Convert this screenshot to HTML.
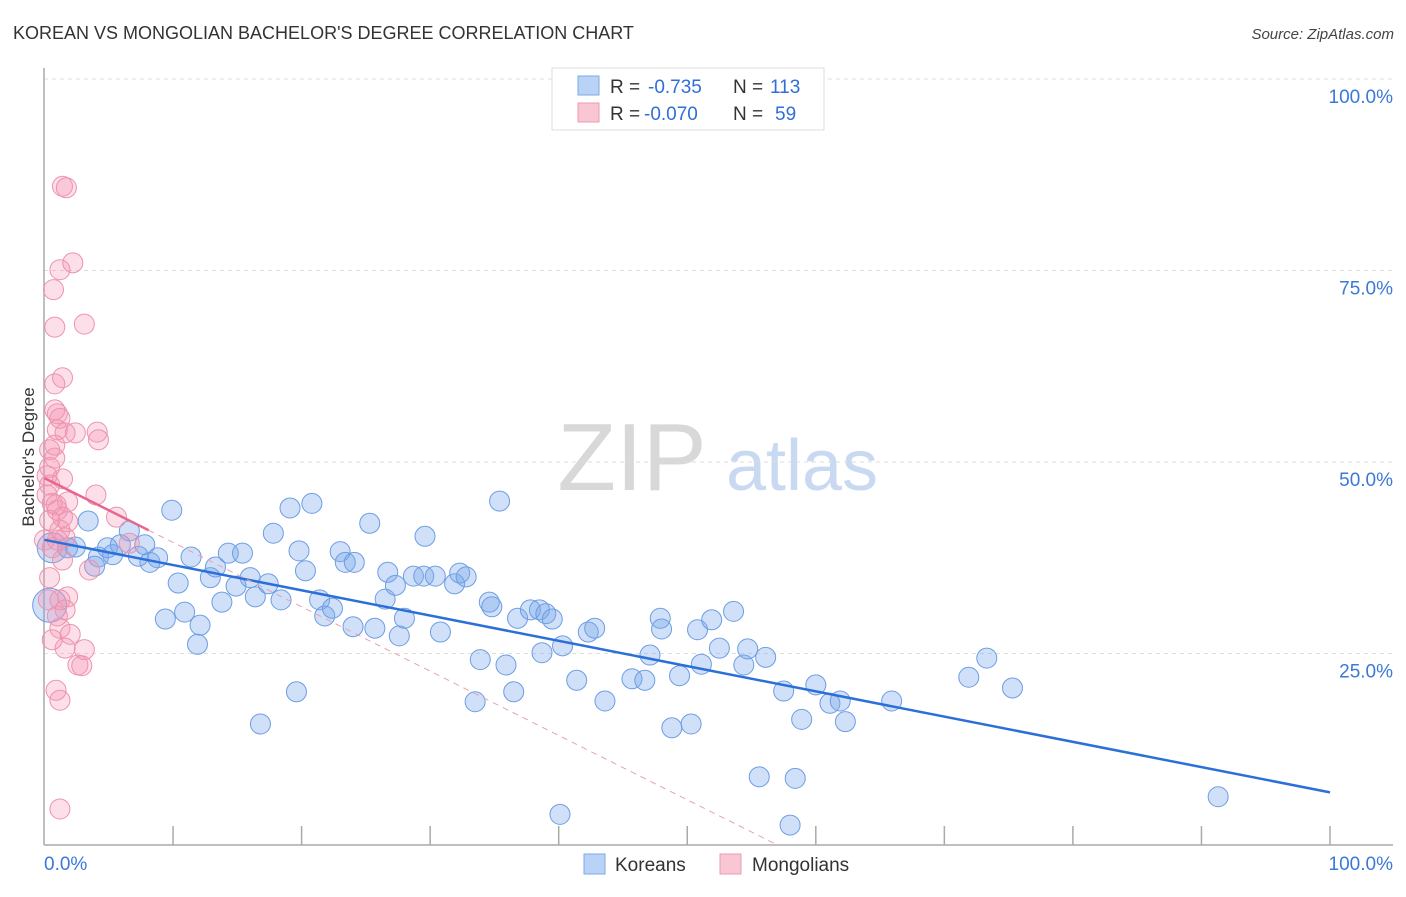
<!DOCTYPE html>
<html><head><meta charset="utf-8"><style>
body{margin:0;background:#fff;font-family:"Liberation Sans",sans-serif;}
svg text{font-family:"Liberation Sans",sans-serif;}
</style></head><body>
<svg id="chart" width="1406" height="892" viewBox="0 0 1406 892" xmlns="http://www.w3.org/2000/svg">
<text x="13" y="39" font-size="18" fill="#333">KOREAN VS MONGOLIAN BACHELOR'S DEGREE CORRELATION CHART</text>
<text x="1394" y="39" font-size="15" fill="#444" text-anchor="end" font-style="italic">Source: ZipAtlas.com</text>
<g>
<text x="632" y="490" font-size="96" fill="#d8d8d8" text-anchor="middle" font-family="Liberation Serif,serif">ZIP</text>
<text x="802" y="490" font-size="72" fill="#c9d9f2" text-anchor="middle">atlas</text>
</g>
<g id="grid"></g>
<g id="axes"></g>
<g id="pts"></g>
<g id="lines"></g>
<text transform="translate(34,457) rotate(-90)" font-size="17" fill="#333" text-anchor="middle">Bachelor's Degree</text>
<g>
<rect x="552" y="68" width="272" height="62" fill="#fff" stroke="#ddd"/>
<rect x="578" y="76" width="21" height="19" fill="#b9d3f7" stroke="#7ea8e6"/>
<rect x="578" y="103" width="21" height="19" fill="#f9c6d4" stroke="#ec9ab2"/>
<text x="610" y="93" font-size="19" fill="#333">R = </text><text x="648" y="93" font-size="19" fill="#2f6fd6">-0.735</text>
<text x="733" y="93" font-size="19" fill="#333">N = </text><text x="770" y="93" font-size="19" fill="#2f6fd6">113</text>
<text x="610" y="120" font-size="19" fill="#333">R = </text><text x="644" y="120" font-size="19" fill="#2f6fd6">-0.070</text>
<text x="733" y="120" font-size="19" fill="#333">N = </text><text x="775" y="120" font-size="19" fill="#2f6fd6">59</text>
</g>
<g>
<rect x="584" y="854" width="21" height="20" fill="#b9d3f7" stroke="#7ea8e6"/>
<text x="615" y="871" font-size="19" fill="#333">Koreans</text>
<rect x="720" y="854" width="21" height="20" fill="#f9c6d4" stroke="#ec9ab2"/>
<text x="752" y="871" font-size="19" fill="#333">Mongolians</text>
</g>
</svg>
<script>
const yTicks=[25,50,75,100];
const yTickLabels=["25.0%","50.0%","75.0%","100.0%"];
const xTicks=[10,20,30,40,50,60,70,80,90,100];
const koreanX=[0.6,0.4,3.4,1.8,2.4,4.2,4.9,5.3,5.9,3.9,6.6,7.3,7.8,8.2,8.8,9.9,10.4,10.9,9.4,11.4,11.9,12.1,12.9,13.3,13.8,14.3,14.9,15.4,16.0,16.4,16.8,17.4,17.8,18.4,19.1,19.6,19.8,20.3,20.8,21.4,21.8,22.4,23.0,23.4,24.0,24.1,25.3,25.7,26.5,26.7,27.3,27.6,28.0,28.7,29.6,29.5,30.4,30.8,31.9,32.3,32.8,33.9,33.5,34.6,34.8,35.4,35.9,36.5,36.8,37.8,38.5,39.0,38.7,39.5,40.1,40.3,41.4,42.3,42.8,43.6,45.7,46.7,47.1,47.9,48.0,48.8,49.4,50.3,50.8,51.1,51.9,52.5,53.6,54.4,54.7,55.6,56.1,57.5,58.0,58.4,58.9,60.0,61.1,61.9,62.3,65.9,71.9,73.3,75.3,91.3];
const koreanY=[38.8,31.3,42.3,38.8,38.9,37.6,38.8,37.9,39.2,36.4,41.0,37.7,39.2,36.9,37.5,43.7,34.2,30.4,29.5,37.6,26.2,28.7,34.9,36.3,31.7,38.1,33.8,38.1,34.9,32.4,15.8,34.1,40.7,32.0,44.0,20.0,38.4,35.8,44.6,32.0,29.9,30.9,38.3,36.9,28.5,36.9,42.0,28.3,32.1,35.6,33.9,27.3,29.6,35.1,40.3,35.1,35.1,27.8,34.1,35.5,35.0,24.2,18.7,31.7,31.1,44.9,23.5,20.0,29.6,30.7,30.7,30.2,25.1,29.5,4.0,26.0,21.5,27.8,28.3,18.8,21.7,21.5,24.8,29.6,28.2,15.3,22.1,15.8,28.1,23.6,29.4,25.7,30.5,23.5,25.6,8.9,24.5,20.1,2.6,8.7,16.4,20.9,18.5,18.8,16.1,18.8,21.9,24.4,20.5,6.3];
const mongolX=[1.4,1.7,1.2,2.2,0.7,0.8,3.1,0.8,1.4,0.8,1.0,1.2,1.0,1.6,2.4,4.1,4.2,0.4,0.8,0.4,0.2,1.4,0.4,4.0,0.6,0.9,1.8,1.0,1.4,1.8,5.6,1.2,1.6,0.6,6.6,3.5,0.4,1.8,1.2,1.6,1.0,1.2,2.0,1.6,3.1,2.6,2.9,0.9,1.2,1.2,0.0,0.4,0.2,1.0,1.4,0.8,0.3,0.6];
const mongolY=[86.0,85.8,75.1,76.0,72.5,67.6,68.0,60.2,61.0,56.8,56.3,55.7,54.2,53.8,53.8,53.9,52.9,51.6,50.5,49.3,48.2,47.8,47.0,45.7,44.6,44.4,44.8,43.7,42.8,42.2,42.8,41.1,40.1,38.8,39.4,35.9,34.9,32.4,32.0,30.7,29.9,28.3,27.5,25.7,25.5,23.5,23.4,20.2,18.9,4.7,39.8,42.4,45.7,39.8,37.2,52.2,32.0,26.8];
// Mongolian trend: [intercept %, slope per %x, solid-line end x]
const mongolTrend=[47.9,-0.84,8.1];
const NS="http://www.w3.org/2000/svg";
const X0=44.5,X1=1330,Y0=845,Y100=79,LEFT=44,RIGHT=1393;
function sx(v){return X0+(X1-X0)*v/100;}
function sy(v){return Y0-(Y0-Y100)*v/100;}
function mk(t,a,p){const e=document.createElementNS(NS,t);for(const k in a)e.setAttribute(k,a[k]);(p||document.getElementById('chart')).appendChild(e);return e;}
const grid=document.getElementById('grid'),axes=document.getElementById('axes'),pts=document.getElementById('pts'),lines=document.getElementById('lines');
yTicks.forEach((t,i)=>{
 const g=mk('line',{x1:LEFT,x2:RIGHT,y1:sy(t),y2:sy(t),stroke:'#ddd','stroke-dasharray':'4,4'},grid);
 
 
 const l=mk('text',{x:1393,y:sy(t)+24,'font-size':19,fill:'#3b78d8','text-anchor':'end'},axes);
 l.textContent=yTickLabels[i];
 
 
});
const ya=mk('line',{x1:LEFT,x2:LEFT,y1:68,y2:845,stroke:'#aaa','stroke-width':1.5},axes);


const xa=mk('line',{x1:LEFT,x2:RIGHT,y1:845,y2:845,stroke:'#aaa','stroke-width':1.5},axes);


xTicks.forEach(t=>{
 const k=mk('line',{x1:sx(t),x2:sx(t),y1:826,y2:845,stroke:'#aaa','stroke-width':1.5},axes);
 
 
});
const xl0=mk('text',{x:44,y:870,'font-size':19,fill:'#3b78d8'},axes);xl0.textContent='0.0%';


const xl1=mk('text',{x:1393,y:870,'font-size':19,fill:'#3b78d8','text-anchor':'end'},axes);xl1.textContent='100.0%';


koreanX.forEach((x,i)=>{
 const r=i===0?15:(i===1?17:10);
 const c=mk('circle',{cx:sx(x),cy:sy(koreanY[i]),r:r,fill:'rgba(120,165,235,0.35)',stroke:'#6d9de3','stroke-width':1},pts);
 
 
});
mongolX.forEach((x,i)=>{
 const c=mk('circle',{cx:sx(x),cy:sy(mongolY[i]),r:10,fill:'rgba(245,150,180,0.3)',stroke:'#ec93ae','stroke-width':1},pts);
 
 
});
function reg(xs,ys){const n=xs.length;let mx=0,my=0;for(let i=0;i<n;i++){mx+=xs[i];my+=ys[i];}mx/=n;my/=n;let a=0,b=0;for(let i=0;i<n;i++){a+=(xs[i]-mx)*(ys[i]-my);b+=(xs[i]-mx)**2;}const s=a/b;return [my-s*mx,s];}
const [kb,ks]=reg(koreanX,koreanY);
const kl=mk('line',{x1:sx(0),y1:sy(kb),x2:sx(100),y2:sy(kb+ks*100),stroke:'#2b6fd9','stroke-width':2.5},lines);


const mb=mongolTrend[0],ms=mongolTrend[1],mMax=mongolTrend[2];
const ml=mk('line',{x1:sx(0),y1:sy(mb),x2:sx(mMax),y2:sy(mb+ms*mMax),stroke:'#e8658f','stroke-width':2.5},lines);


const xz=ms<0?Math.min(100,-mb/ms):100;
const md=mk('line',{x1:sx(mMax),y1:sy(mb+ms*mMax),x2:sx(xz),y2:sy(mb+ms*xz),stroke:'#e8a0b6','stroke-width':1,'stroke-dasharray':'6,5'},lines);


</script>
</body></html>
